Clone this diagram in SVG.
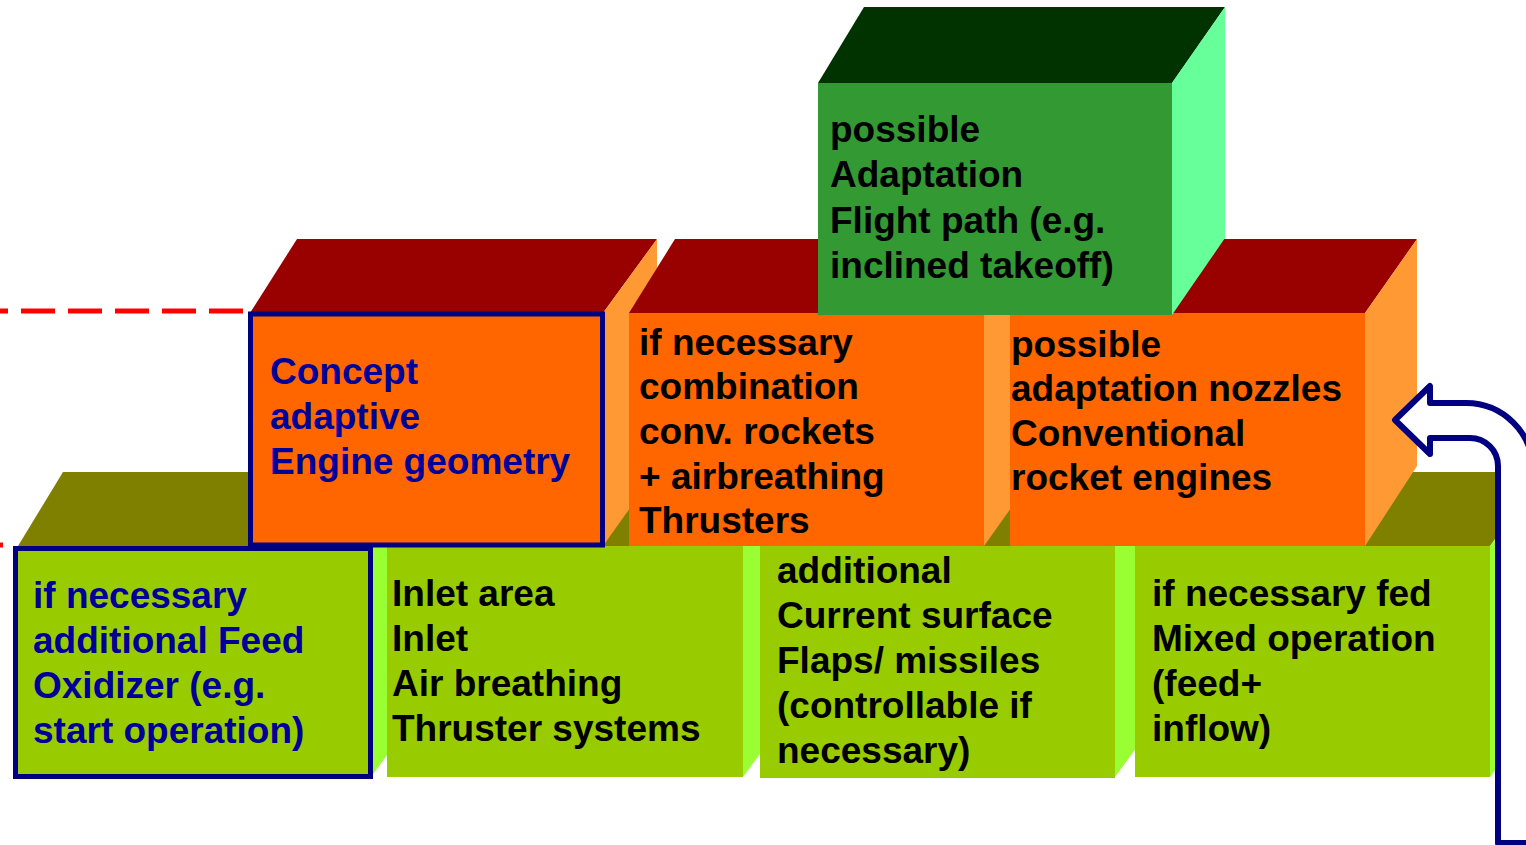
<svg xmlns="http://www.w3.org/2000/svg" width="1526" height="845" viewBox="0 0 1526 845">
  <style>
    .lbl { font-family: "Liberation Sans", Arial, sans-serif; font-weight: bold; font-size: 37px; fill: #000000; }
    .blue { fill: #000099; }
    .olive { fill: #808000; }
    .lime-side { fill: #99FF33; }
    .lime-front { fill: #99CC00; }
    .red-top { fill: #990000; }
    .orange-side { fill: #FF9933; }
    .orange-front { fill: #FF6600; }
    .green-top { fill: #003300; }
    .green-side { fill: #66FF99; }
    .green-front { fill: #339933; }
    .navy-frame { fill: none; stroke: #000080; stroke-width: 5; }
    .dash { fill: none; stroke: #FF0000; stroke-width: 5; stroke-dasharray: 34 13; }
  </style>

  <rect width="1526" height="845" fill="#FFFFFF"/>

  <!-- dashed reference lines on the left edge -->
  <g id="connectors">
    <line class="dash" x1="243" y1="311" x2="-10" y2="311"/>
    <line x1="-2" y1="545" x2="3" y2="545" stroke="#FF0000" stroke-width="5"/>
  </g>

  <!-- bottom row: shared top face -->
  <polygon class="olive" points="18,546 63,472 1545,472 1490,546"/>

  <g id="feed-oxidizer">
    <polygon class="lime-side" points="371,546 425,472 425,703 371,777"/>
    <rect class="lime-front" x="15.5" y="548.5" width="355" height="228"/>
    <rect class="navy-frame" x="15.5" y="548.5" width="355" height="228"/>
    <text class="lbl blue">
      <tspan x="33" y="608">if necessary</tspan>
      <tspan x="33" y="653">additional Feed</tspan>
      <tspan x="33" y="698">Oxidizer (e.g.</tspan>
      <tspan x="33" y="743">start operation)</tspan>
    </text>
  </g>

  <g id="inlet">
    <polygon class="lime-side" points="743,546 797,472 797,703 743,777"/>
    <rect class="lime-front" x="387" y="546" width="356" height="231"/>
    <text class="lbl">
      <tspan x="392" y="606">Inlet area</tspan>
      <tspan x="392" y="651">Inlet</tspan>
      <tspan x="392" y="696">Air breathing</tspan>
      <tspan x="392" y="741">Thruster systems</tspan>
    </text>
  </g>

  <g id="flaps">
    <polygon class="lime-side" points="1115,546 1169,472 1169,703 1115,777"/>
    <rect class="lime-front" x="760" y="546" width="355" height="232"/>
    <text class="lbl">
      <tspan x="777" y="583">additional</tspan>
      <tspan x="777" y="628">Current surface</tspan>
      <tspan x="777" y="673">Flaps/ missiles</tspan>
      <tspan x="777" y="718">(controllable if</tspan>
      <tspan x="777" y="763">necessary)</tspan>
    </text>
  </g>

  <g id="mixed-operation">
    <polygon class="lime-side" points="1490,546 1544,472 1544,703 1490,777"/>
    <rect class="lime-front" x="1135" y="546" width="355" height="231"/>
    <text class="lbl">
      <tspan x="1152" y="606">if necessary fed</tspan>
      <tspan x="1152" y="651">Mixed operation</tspan>
      <tspan x="1152" y="696">(feed+</tspan>
      <tspan x="1152" y="741">inflow)</tspan>
    </text>
  </g>

  <!-- middle row -->
  <g id="engine-geometry">
    <polygon class="red-top" points="250,313 297,239 657,239 603,313"/>
    <polygon class="orange-side" points="603,313 657,239 657,470 603,546"/>
    <rect class="orange-front" x="250.5" y="314" width="352" height="231"/>
    <rect class="navy-frame" x="250.5" y="314" width="352" height="231"/>
    <text class="lbl blue">
      <tspan x="270" y="384">Concept</tspan>
      <tspan x="270" y="429">adaptive</tspan>
      <tspan x="270" y="474">Engine geometry</tspan>
    </text>
  </g>

  <g id="combination">
    <polygon class="red-top" points="629,313 675,239 1038,239 984,313"/>
    <polygon class="orange-side" points="984,313 1038,239 1038,470 984,546"/>
    <rect class="orange-front" x="629" y="313" width="355" height="233"/>
    <text class="lbl">
      <tspan x="639" y="355">if necessary</tspan>
      <tspan x="639" y="399">combination</tspan>
      <tspan x="639" y="444">conv. rockets</tspan>
      <tspan x="639" y="489">+ airbreathing</tspan>
      <tspan x="639" y="533">Thrusters</tspan>
    </text>
  </g>

  <g id="nozzles">
    <polygon class="red-top" points="1010,313 1056,239 1417,239 1365,313"/>
    <polygon class="orange-side" points="1365,313 1417,239 1417,466 1365,546"/>
    <rect class="orange-front" x="1010" y="313" width="355" height="233"/>
    <text class="lbl">
      <tspan x="1011" y="357">possible</tspan>
      <tspan x="1011" y="401">adaptation nozzles</tspan>
      <tspan x="1011" y="446">Conventional</tspan>
      <tspan x="1011" y="490">rocket engines</tspan>
    </text>
  </g>

  <!-- top block -->
  <g id="flight-path">
    <polygon class="green-top" points="818,83 864,7 1225,7 1172,83"/>
    <polygon class="green-side" points="1172,83 1225,7 1225,238 1172,315"/>
    <rect class="green-front" x="818" y="83" width="354" height="232"/>
    <text class="lbl">
      <tspan x="830" y="142">possible</tspan>
      <tspan x="830" y="187">Adaptation</tspan>
      <tspan x="830" y="233">Flight path (e.g.</tspan>
      <tspan x="830" y="278">inclined takeoff)</tspan>
    </text>
  </g>

  <!-- curved return arrow on the right edge -->
  <g id="return-arrow">
    <path d="M 1498,843 L 1498,466 A 28,28 0 0 0 1470,438 L 1430,438 L 1430,454 L 1395,420 L 1430,386 L 1430,403 L 1466,403 A 67,67 0 0 1 1533,470 L 1533,843 Z"
          fill="#FFFFFF" stroke="#000080" stroke-width="6" stroke-linejoin="round"/>
  </g>
</svg>
